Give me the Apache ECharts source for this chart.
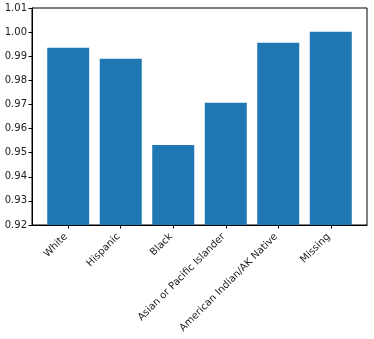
<!DOCTYPE html>
<html>
<head>
<meta charset="utf-8">
<script src="https://cdn.jsdelivr.net/npm/echarts@6/dist/echarts.min.js"></script>
<style>html,body{margin:0;padding:0;background:#fff}#c{width:374px;height:339px}</style>
</head>
<body>
<div id="c"></div>
<script>
var categories = ["White", "Hispanic", "Black", "Asian or Pacific Islander", "American Indian/AK Native", "Missing"];
var values = [0.9935, 0.9890, 0.9532, 0.9707, 0.9956, 1.0001];
var yTicks = [0.92, 0.93, 0.94, 0.95, 0.96, 0.97, 0.98, 0.99, 1.00, 1.01];

var positions = categories.map(function (c, i) { return i; });
var chart = echarts.init(document.getElementById('c'), null, {renderer: 'canvas'});
var font = 'DejaVu Sans';
chart.setOption({
  animation: false,
  grid: {left: 32, right: 7, top: 8, bottom: 114, show: true, borderColor: '#000', borderWidth: 1, backgroundColor: 'transparent'},
  xAxis: {
    type: 'value', min: -0.69, max: 5.69,
    splitLine: {show: false},
    axisLine: {show: true, onZero: false, lineStyle: {color: '#000', width: 1}},
    axisTick: {show: true, customValues: positions, length: 3.5, lineStyle: {color: '#000'}},
    axisLabel: {
      customValues: positions, rotate: 45, margin: 8, padding: [0, 3, 0, 0],
      fontFamily: font, fontSize: 10, color: '#222',
      formatter: function (v) { return categories[Math.round(v)]; }
    }
  },
  yAxis: {
    type: 'value', min: 0.92, max: 1.01,
    splitLine: {show: false},
    axisLine: {show: true, onZero: false, lineStyle: {color: '#000', width: 1}},
    axisTick: {show: true, customValues: yTicks, length: 3.5, lineStyle: {color: '#000'}},
    axisLabel: {
      customValues: yTicks, margin: 5,
      fontFamily: font, fontSize: 10, color: '#222',
      formatter: function (v) { return v.toFixed(2); }
    }
  },
  series: [{
    type: 'bar',
    barWidth: 42,
    itemStyle: {color: '#1f77b4'},
    data: values.map(function (v, i) { return [positions[i], v]; })
  }]
});
</script>
</body>
</html>
